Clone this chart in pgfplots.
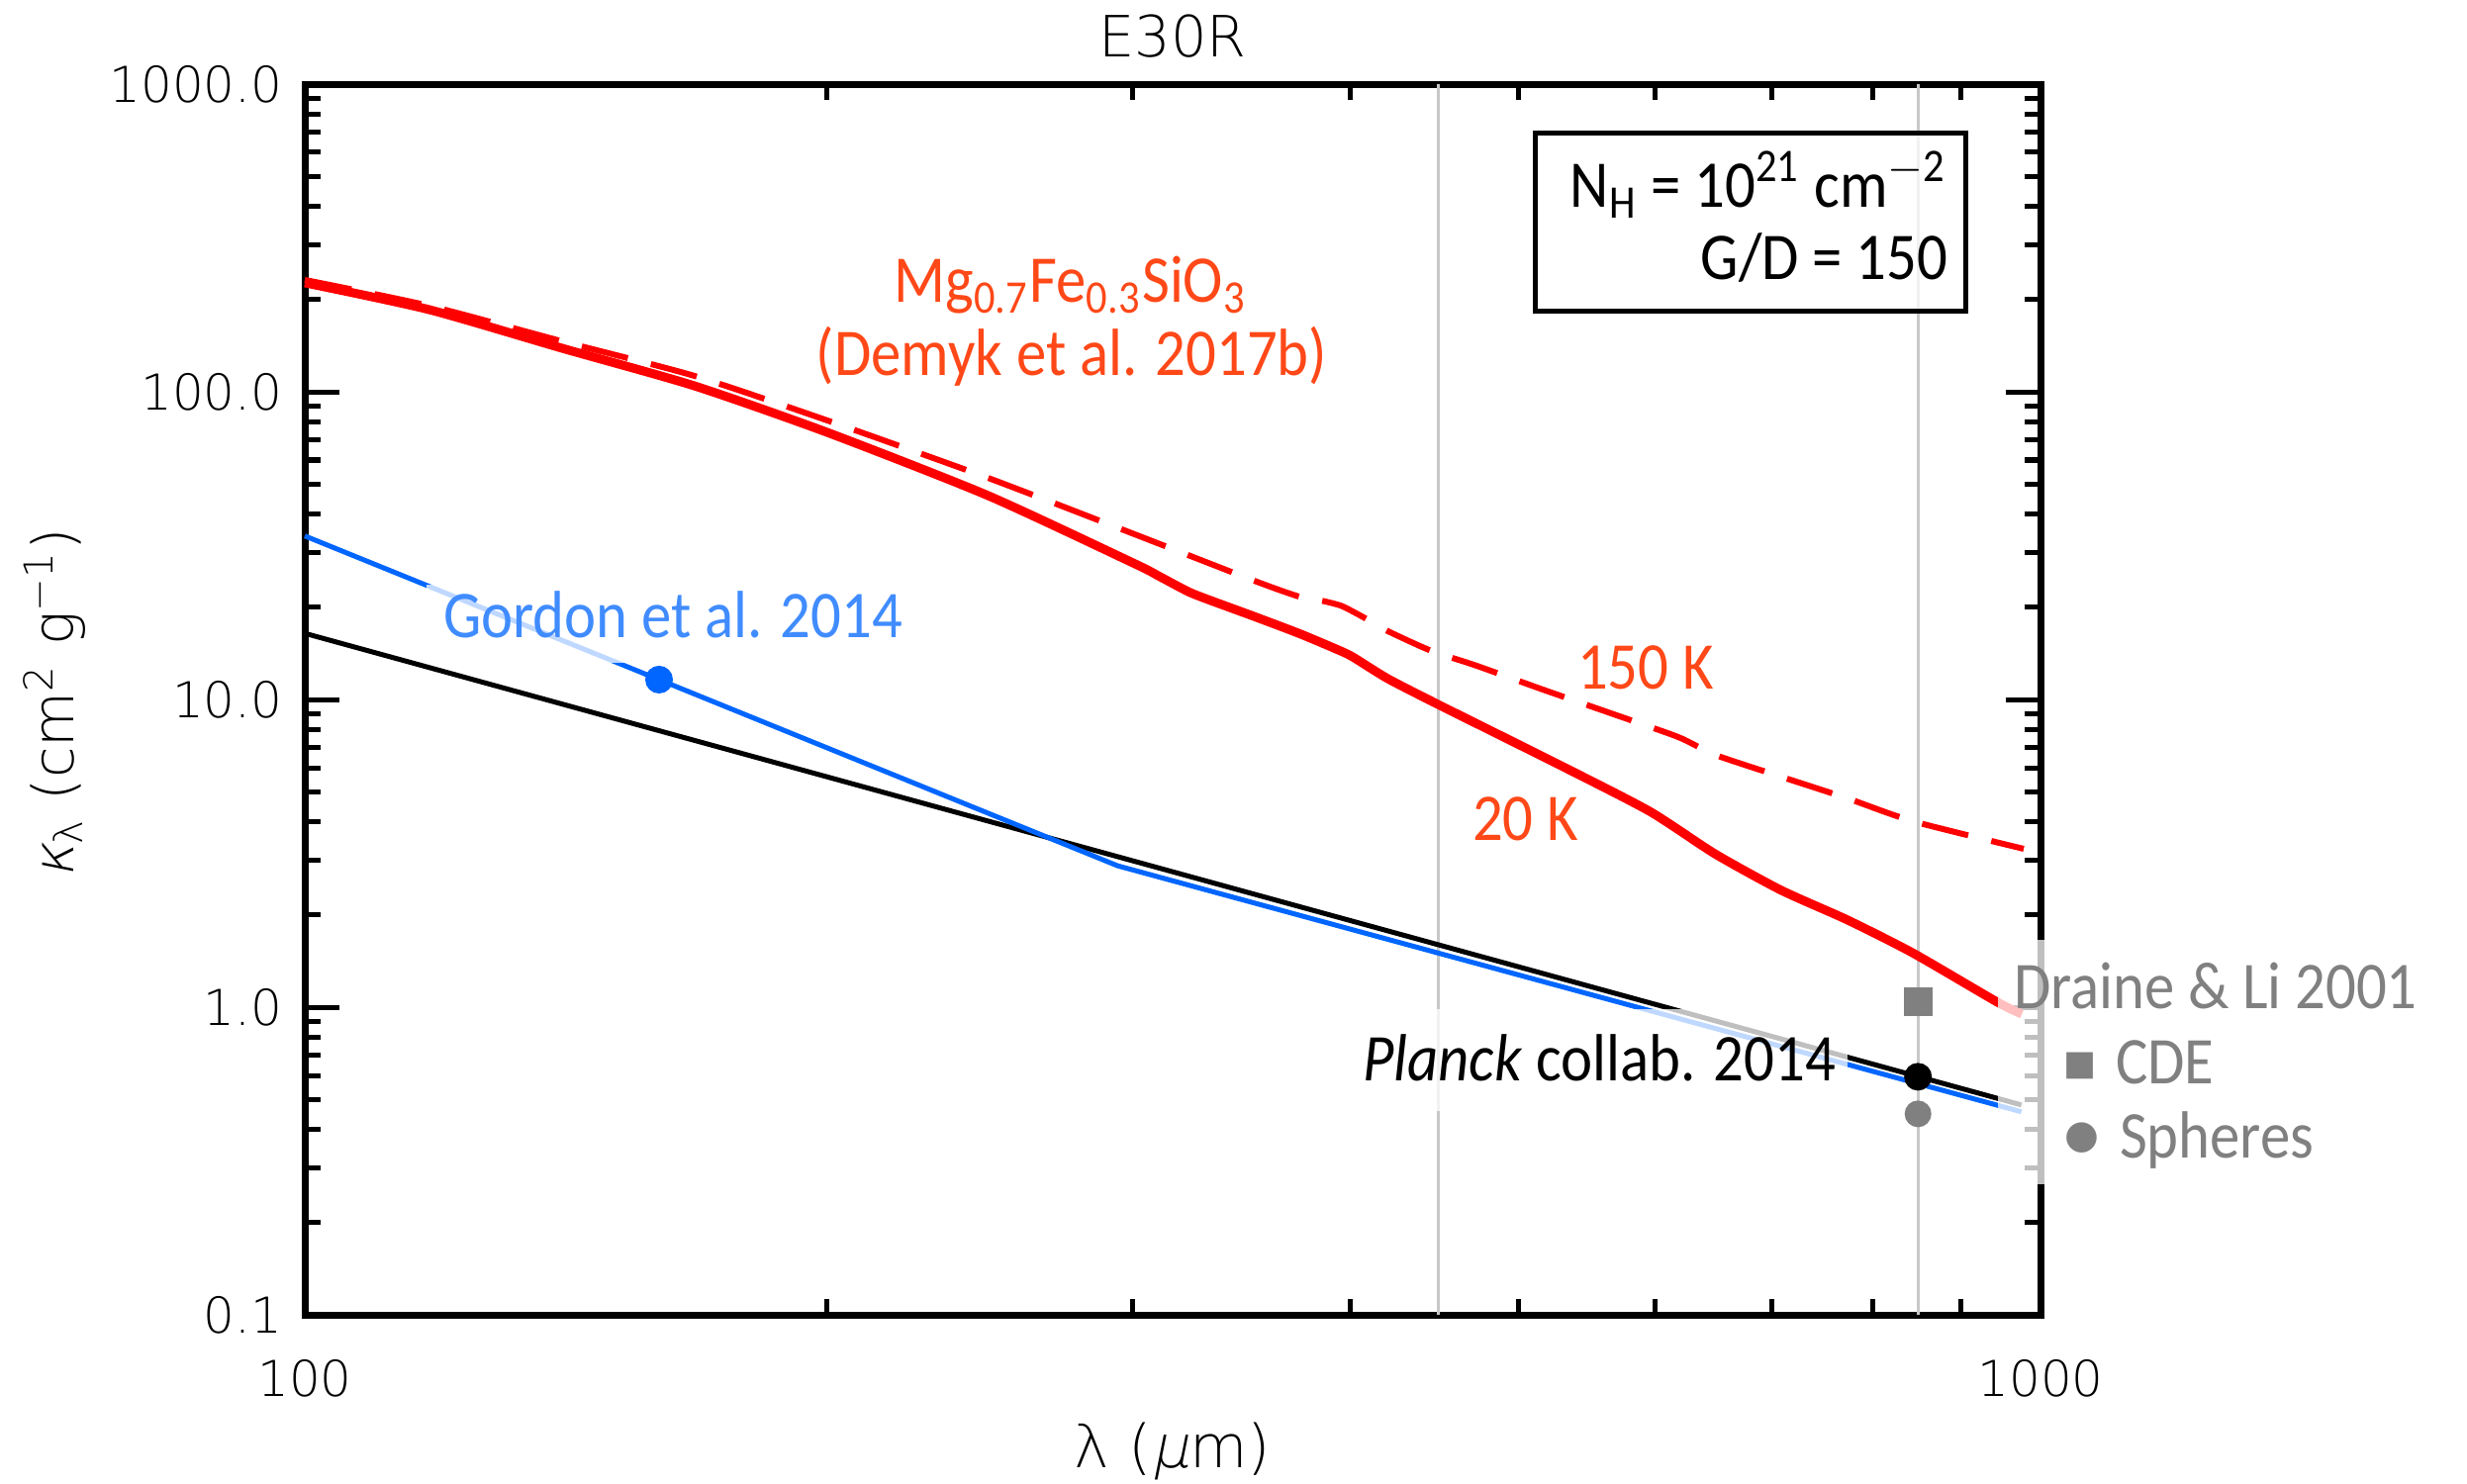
\documentclass[border=0pt]{standalone}
\usepackage{pgfplots}
\pgfplotsset{compat=1.18}
\usepackage{fontspec}
\setmainfont{Carlito}
\newfontfamily\ann{Carlito}[FakeStretch=0.9]
\IfFontExistsTF{DejaVu Sans ExtraLight}{%
  \newfontfamily\thinfont{DejaVu Sans ExtraLight}%
  \newfontfamily\thinslant{DejaVu Sans ExtraLight}[FakeSlant=0.2]}{%
  \newfontfamily\thinfont{DejaVu Sans}%
  \newfontfamily\thinslant{DejaVu Sans}[FakeSlant=0.2]}
\newfontfamily\symfont{DejaVu Sans}
\definecolor{redline}{RGB}{255,0,0}
\definecolor{redtext}{RGB}{255,72,24}
\definecolor{blueline}{RGB}{0,102,255}
\definecolor{bluetext}{RGB}{64,140,255}
\definecolor{vgray}{RGB}{200,200,200}
\definecolor{mgray}{RGB}{128,128,128}
\newcommand{\annsize}{\ann\fontsize{13.5}{16}\selectfont}
\begin{document}
\begin{tikzpicture}
\useasboundingbox (-61.6pt,-34.2pt) rectangle (437pt,265.8pt);
\begin{axis}[
  at={(0pt,0pt)}, anchor=south west,
  scale only axis, width=350.8pt, height=248.8pt,
  xmode=log, ymode=log,
  xmin=100, xmax=1000, ymin=0.1, ymax=1000,
  xtick={100,1000}, xticklabels={100,1000},
  minor xtick={200,300,400,500,600,700,800,900},
  ytick={0.1,1,10,100,1000}, yticklabels={0.1,1.0,10.0,100.0,1000.0},
  minor ytick={0.2,0.3,0.4,0.5,0.6,0.7,0.8,0.9,2,3,4,5,6,7,8,9,20,30,40,50,60,70,80,90,200,300,400,500,600,700,800,900},
  tick label style={font=\thinfont\fontsize{10}{12}\selectfont, black},
  xticklabel style={yshift=-5.6pt},
  yticklabel style={xshift=-1pt},
  major tick length=7pt, minor tick length=3.2pt,
  tick style={line width=1pt, black},
  axis line style={line width=1.4pt, black},
  clip=false,
]
% reference wavelengths 450 and 850 micron
\addplot[vgray, line width=0.6pt] coordinates {(450,0.1) (450,1000)};
\addplot[vgray, line width=0.6pt] coordinates {(850,0.1) (850,1000)};
% Planck collab. 2014
\addplot[black, line width=1pt] coordinates {(100,16.4) (975,0.481)};
% Gordon et al. 2014
\addplot[blueline, line width=1pt] coordinates {(100,34.0) (160,11.6) (294,2.88) (975,0.457)};
% 150 K
\addplot[redline, line width=1.2pt, dash pattern=on 9.6pt off 4.8pt, smooth, tension=0.4] coordinates {
(100,231) (117.9,190.4) (140.7,145.9) (167.7,112.6) (200,80.7) (247.5,52.5) (300.8,34.4)
(352.5,24.3) (373.9,21.6) (386,20.9) (396,20.1) (408,18.4) (420.5,16.7) (445.5,14.4)
(472.7,12.9) (516,10.8) (563.6,9.08) (618.4,7.55) (649.3,6.61) (708.8,5.61) (774.2,4.77)
(844.2,4.02) (978,3.27)};
% 20 K
\addplot[redline, line width=1.8pt, smooth, tension=0.4] coordinates {
(100,226) (117.9,185) (140.7,138.5) (167.7,104.5) (200,73.8) (247.5,46.0) (300.8,27.6)
(310,25.3) (322.9,22.4) (332.4,21.0) (352.5,18.6) (373.9,16.4) (391.6,14.7) (401.1,13.8)
(420.5,11.7) (449.6,9.64) (531,6.04) (595.4,4.33) (649.3,3.15) (708.8,2.40)
(774.2,1.92) (844.2,1.50) (943.8,1.04) (975.5,0.95)};
% points
\addplot[only marks, mark=*, mark size=2.6pt, blueline] coordinates {(160,11.6)};
\addplot[only marks, mark=*, mark size=2.6pt, black] coordinates {(850,0.594)};
\addplot[only marks, mark=square*, mark size=2.7pt, mgray] coordinates {(850,1.045)};
\addplot[only marks, mark=*, mark size=2.5pt, mgray] coordinates {(850,0.45)};
\end{axis}

% title and axis labels
\node[font=\thinfont\fontsize{11.5}{13}\selectfont] at (175.4pt,258.4pt) {E30R};
\node[font=\thinfont\fontsize{12}{14}\selectfont] at (175.4pt,-27.6pt) {λ ({\thinslant μ}m)};
\node[font=\thinfont\fontsize{11.5}{14}\selectfont, rotate=90] at (-50.6pt,123.6pt)
  {{\thinslant κ}\textsubscript{λ} (cm\textsuperscript{2} g\textsuperscript{−1})};

% semi-transparent label backgrounds
\fill[white, fill opacity=0.75] (24.6pt,131.8pt) rectangle (127.8pt,147.6pt);
\fill[white, fill opacity=0.75] (210.4pt,41.2pt) rectangle (311.8pt,61.8pt);
\fill[white, fill opacity=0.75] (342.2pt,26.4pt) rectangle (433.4pt,75.8pt);
\filldraw[fill=white, fill opacity=0.75, draw=black, line width=1pt] (248.6pt,202.8pt) rectangle (335.6pt,238.8pt);

% annotations
\node[font=\annsize, text=bluetext, anchor=base west, inner sep=0pt] at (27.8pt,136.8pt) {Gordon et al. 2014};
\node[font=\annsize, text=black, anchor=base west, inner sep=0pt] at (213.6pt,47.2pt) {\textit{Planck} collab. 2014};
\node[font=\annsize, text=redtext, anchor=base, inner sep=0pt] at (154.8pt,204.6pt) {Mg\textsubscript{0.7}Fe\textsubscript{0.3}SiO\textsubscript{3}};
\node[font=\annsize, text=redtext, anchor=base, inner sep=0pt] at (155pt,189.8pt) {(Demyk et al. 2017b)};
\node[font=\annsize, text=redtext, anchor=base west, inner sep=0pt] at (257pt,126.4pt) {150 K};
\node[font=\annsize, text=redtext, anchor=base west, inner sep=0pt] at (235.8pt,95.8pt) {20 K};
\node[font=\annsize, text=black, anchor=base east, inner sep=0pt] at (332.2pt,223.8pt) {N\textsubscript{H} = 10\textsuperscript{21} cm\textsuperscript{$-$2}};
\node[font=\annsize, text=black, anchor=base east, inner sep=0pt] at (332.2pt,209.2pt) {G/D = 150};
\node[font=\annsize, text=mgray, anchor=base west, inner sep=0pt] at (345.2pt,61.8pt) {Draine \& Li 2001};
\node[font=\symfont\fontsize{7}{8}\selectfont, text=mgray, inner sep=0pt] at (358.9pt,50.4pt) {■};
\node[font=\annsize, text=mgray, anchor=base west, inner sep=0pt] at (365.8pt,46.6pt) {CDE};
\node[font=\symfont\fontsize{8}{9}\selectfont, text=mgray, inner sep=0pt] at (359.2pt,35.8pt) {●};
\node[font=\annsize, text=mgray, anchor=base west, inner sep=0pt] at (366.6pt,31.6pt) {Spheres};
\end{tikzpicture}
\end{document}
